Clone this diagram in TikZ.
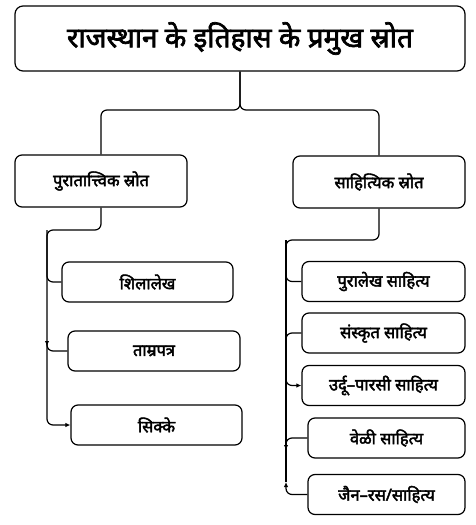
\documentclass[tikz,border=0pt]{standalone}
\usepackage{fontspec}
\newfontfamily\hindi[Script=Devanagari, AutoFakeBold=2.5]{Noto Sans}
\usepackage{tikz}
\usetikzlibrary{calc, arrows.meta}

\begin{document}
\begin{tikzpicture}[x=1pt, y=-1pt]

        % 1. Styles for the boxes and the connectors
        \tikzset{
            topbox/.style={draw, line width=1.2pt, rounded corners=8pt, minimum width=450pt, minimum height=65pt, font=\hindi\bfseries\fontsize{28}{31}\selectfont},
            srcbox/.style={draw, line width=1.2pt, rounded corners=7pt, minimum height=52pt, font=\hindi\bfseries\fontsize{16.5}{19}\selectfont},
            subbox/.style={draw, line width=1.2pt, rounded corners=7pt, minimum height=40pt, font=\hindi\bfseries\fontsize{16.5}{19}\selectfont},
            conn/.style={line width=1.2pt, rounded corners=6pt},
            arr/.style={conn, -{Latex[length=5pt, width=4.5pt]}}
        }
        \useasboundingbox (0,0) rectangle (475,525);

        % 2. The main heading and the two kinds of sources
        \node[topbox] (title) at (240,38.5) {राजस्थान के इतिहास के प्रमुख स्रोत};
        \node[srcbox, minimum width=172pt] (puratattvik) at (101,181) {पुरातात्त्विक स्रोत};
        \node[srcbox, minimum width=172pt] (sahityik) at (379,182) {साहित्यिक स्रोत};

        % Left branch boxes
        \node[subbox, minimum width=171pt] (shilalekh) at (147.5,282) {शिलालेख};
        \node[subbox, minimum width=172pt] (tamrapatra) at (154,351) {ताम्रपत्र};
        \node[subbox, minimum width=171pt] (sikke) at (156.5,425) {सिक्के};

        % Right branch boxes
        \node[subbox, minimum width=163pt] (puralekh) at (383.5,281.5) {पुरालेख साहित्य};
        \node[subbox, minimum width=163pt] (sanskrit) at (383.5,333) {संस्कृत साहित्य};
        \node[subbox, minimum width=163pt] (urdu) at (383.5,385.5) {उर्दू–पारसी साहित्य};
        \node[subbox, minimum width=157pt] (veli) at (386.5,438) {वेळी साहित्य};
        \node[subbox, minimum width=157pt] (jain) at (386.5,494.5) {जैन–रस/साहित्य};

        % 3. Split points and bus lines
        \coordinate (split) at (240,110);
        \coordinate (lbus) at (47,230);
        \coordinate (rbus) at (286,240);
        \coordinate (rdown) at (286,450);
        \coordinate (rup) at (286,482);
        \coordinate (lup) at (47,346);

        % Heading to the two sources
        \draw[conn] (title.south) -- (split) -| (puratattvik.north);
        \draw[conn] (title.south) -- (split) -| (sahityik.north);

        % 4. Left tree
        \draw[arr] (puratattvik.south) |- (lbus) |- (sikke.west);
        \draw[conn] (shilalekh.west) -| (lbus);
        \draw[arr] (tamrapatra.west) -| (lup);

        % 5. Right tree
        \draw[conn] (sahityik.south) |- (rbus) |- (puralekh.west);
        \draw[conn] (rbus) -- (rup);
        \draw[arr] (sanskrit.west) -| (rbus |- urdu.west) -- (urdu.west);
        \draw[arr] (veli.west) -| (rdown);
        \draw[arr] (jain.west) -| (rup);

\end{tikzpicture}
\end{document}
